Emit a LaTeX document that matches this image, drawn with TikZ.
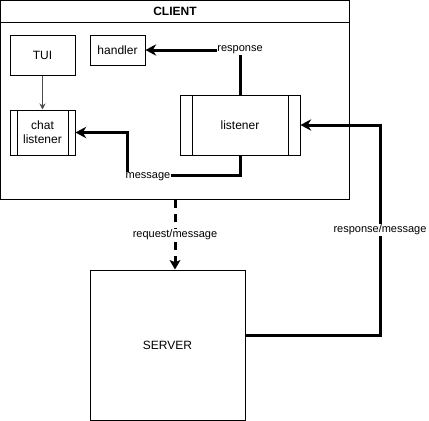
\documentclass[tikz,border=0pt]{standalone}
\usepackage{fontspec}
\setmainfont{Liberation Sans}
\usetikzlibrary{arrows.meta,positioning}

\begin{document}
\begin{tikzpicture}[
    x = 0.75pt,
    y = -0.75pt,
    line width = 0.75pt,
    >={Stealth[length=8pt, width=8.5pt, inset=2.5pt]},
    box/.style = {
      draw,
      rectangle,
      inner sep = 0pt,
      align = center,
      font = \fontsize{9}{10.5}\selectfont
    },
    process/.style = {
      box,
      path picture = {
        \draw ([xshift=#1]path picture bounding box.north west)
           -- ([xshift=#1]path picture bounding box.south west);
        \draw ([xshift=-#1]path picture bounding box.north east)
           -- ([xshift=-#1]path picture bounding box.south east);
      }
    },
    lbl/.style = {
      fill = white,
      inner sep = 0.5pt,
      font = \fontsize{8.25}{9.5}\selectfont
    },
    flow/.style = {->, line width = 2.25pt},
    thinflow/.style = {-{Stealth[length=4.5pt, width=4.5pt]}, draw = black!70}
  ]
  \useasboundingbox (0,0) rectangle (429,421);

  % client container
  \node[box, minimum width=262pt, minimum height=149.5pt] (client) at (175,100) {};
  \draw ([yshift=-17.25pt]client.north west) -- ([yshift=-17.25pt]client.north east);
  \node[font=\fontsize{9}{10.5}\selectfont\bfseries] (clienttitle) at (175,11) {CLIENT};

  \node[box, minimum width=48.75pt, minimum height=30pt] (tui) at (42.5,55) {TUI};
  \node[box, minimum width=41.25pt, minimum height=22.5pt] (handler) at (117.5,50) {handler};
  \node[process=5.25pt, minimum width=48.75pt, minimum height=33.75pt] (chat) at (42.5,132.5) {chat\\listener};
  \node[process=9pt, minimum width=90pt, minimum height=45pt] (listener) at (240,125) {listener};

  \node[box, minimum width=116.25pt, minimum height=112.5pt] (server) at (167.5,345) {SERVER};

  % connectors
  \draw[thinflow] (tui) -- (chat);
  \draw[flow] (listener.north) |- node[lbl, pos=0.5] (resplabel) {response} (handler.east);

  \coordinate (msgbend) at (127,175);
  \draw[flow] (listener.south) |- (msgbend) |- (chat.east);
  \node[lbl] (msglabel) at (148,177) {message};

  \coordinate (rmcorner) at (380,335);
  \draw[flow] ([yshift=7.5pt]server.east) -- (rmcorner)
    |- node[lbl, pos=0.25] (rmlabel) {response/message} (listener.east);

  \draw[flow, dash pattern=on 6pt off 4.5pt, -{Stealth[length=7pt, width=8pt, inset=1.5pt]}]
    (client.south) -- (client.south |- server.north)
    node[lbl, pos=0.5] (reqlabel) {request/message};
\end{tikzpicture}
\end{document}
